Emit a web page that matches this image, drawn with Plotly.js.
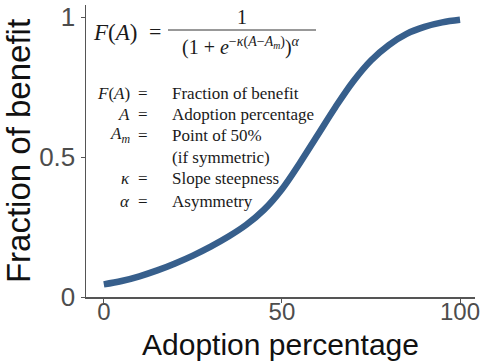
<!DOCTYPE html>
<html>
<head>
<meta charset="utf-8">
<script src="https://cdn.plot.ly/plotly-3.0.1.min.js"></script>
<style>html,body{margin:0;padding:0;background:#fff;}#chart{width:481px;height:361px;}</style>
</head>
<body>
<div id="chart"></div>
<script>
// Data
const adoption = [0, 5, 10, 15, 20, 25, 30, 35, 40, 45, 50, 55, 60, 65, 70, 75, 80, 85, 90, 95, 100];
const benefit = [0.045, 0.057, 0.074, 0.095, 0.12, 0.148, 0.18, 0.216, 0.258, 0.312, 0.385, 0.478, 0.578, 0.678, 0.77, 0.845, 0.9, 0.94, 0.965, 0.981, 0.99];
const xTicks = [0, 50, 100];
const yTicks = [0, 0.5, 1];
const yTickText = ['0', '0.5', '1'];
const legendSymbols = ['<i>F</i>(<i>A</i>)', '<i>A</i>', '<i>A</i><sub><i>m</i></sub>', '', '<i>κ</i>', '<i>α</i>'];
const legendEquals = ['=', '=', '=', '', '=', '='];
const legendMeanings = ['Fraction of benefit', 'Adoption percentage', 'Point of 50%', '(if symmetric)', 'Slope steepness', 'Asymmetry'];
const formulaLeft = '<i>F</i>(<i>A</i>)';
const formulaEq = '=';
const formulaNum = '1';
const formulaDen = '(1 + <i>e</i><sup>−<i>κ</i>(<i>A</i>−<i>A</i><sub><i>m</i></sub>)</sup>)<sup><i>α</i></sup>';

// plot-area geometry helpers (pixels -> paper)
const L = 86, R = 6, T = 5, B = 64, W = 481, H = 361;
const pw = W - L - R, ph = H - T - B;
const px = x => (x - L) / pw;
const py = y => (H - B - y) / ph;

const serif = 'Liberation Serif, DejaVu Serif, serif';
const txt = '#1a1a1a';
const annotations = [];
const rowsY = [93, 114, 135, 157, 179, 201];
const note = (x, y, anchor, text, size) => annotations.push({xref:'paper', yref:'paper', x:px(x), y:py(y), xanchor:anchor, align:anchor, yanchor:'middle', text:text, showarrow:false, borderpad:0, font:{family:serif, size:size, color:txt}});
rowsY.forEach((yy, i) => {
  if (legendSymbols[i]) note(131, yy, 'right', legendSymbols[i], 17);
  if (legendEquals[i]) note(143, yy, 'center', legendEquals[i], 17);
  note(171, yy, 'left', legendMeanings[i], 17);
});
note(92, 32, 'left', formulaLeft, 23);
note(155, 31, 'center', formulaEq, 22);
note(242, 17, 'center', formulaNum, 20);
note(241, 46, 'center', formulaDen, 20);

const data = [{
  x: adoption, y: benefit, type: 'scatter', mode: 'lines',
  line: {color: '#375f8c', width: 6.5, shape: 'spline'}, hoverinfo: 'skip'
}];

const layout = {
  width: W, height: H,
  margin: {l: L, r: R, t: T, b: B, pad: 0},
  paper_bgcolor: '#fff', plot_bgcolor: '#fff',
  showlegend: false,
  font: {family: 'Liberation Sans, Arial, sans-serif'},
  xaxis: {
    range: [-5, 104.2], tickvals: xTicks, ticktext: xTicks.map(String),
    showgrid: false, zeroline: false, showline: true, linecolor: '#555', linewidth: 1.5,
    ticks: 'outside', ticklen: 4, tickcolor: '#555', tickwidth: 1,
    ticklabelstandoff: -11,
    tickfont: {size: 24, color: '#4d4d4d'},
    title: {text: 'Adoption percentage', font: {size: 30, color: '#111'}, standoff: 12}
  },
  yaxis: {
    range: [0, 1.043], tickvals: yTicks, ticktext: yTickText,
    showgrid: false, zeroline: false, showline: true, linecolor: '#555', linewidth: 1.5,
    ticks: 'outside', ticklen: 4, tickcolor: '#555', tickwidth: 1,
    tickfont: {size: 26, color: '#4d4d4d'},
    title: {text: 'Fraction of benefit', font: {size: 33, color: '#111'}, standoff: 6}
  },
  shapes: [{type: 'line', xref: 'paper', yref: 'paper', x0: px(168), x1: px(316), y0: py(30), y1: py(30), line: {color: '#333', width: 1}}],
  annotations: annotations
};

Plotly.newPlot('chart', data, layout, {staticPlot: true, displayModeBar: false});
</script>
</body>
</html>
